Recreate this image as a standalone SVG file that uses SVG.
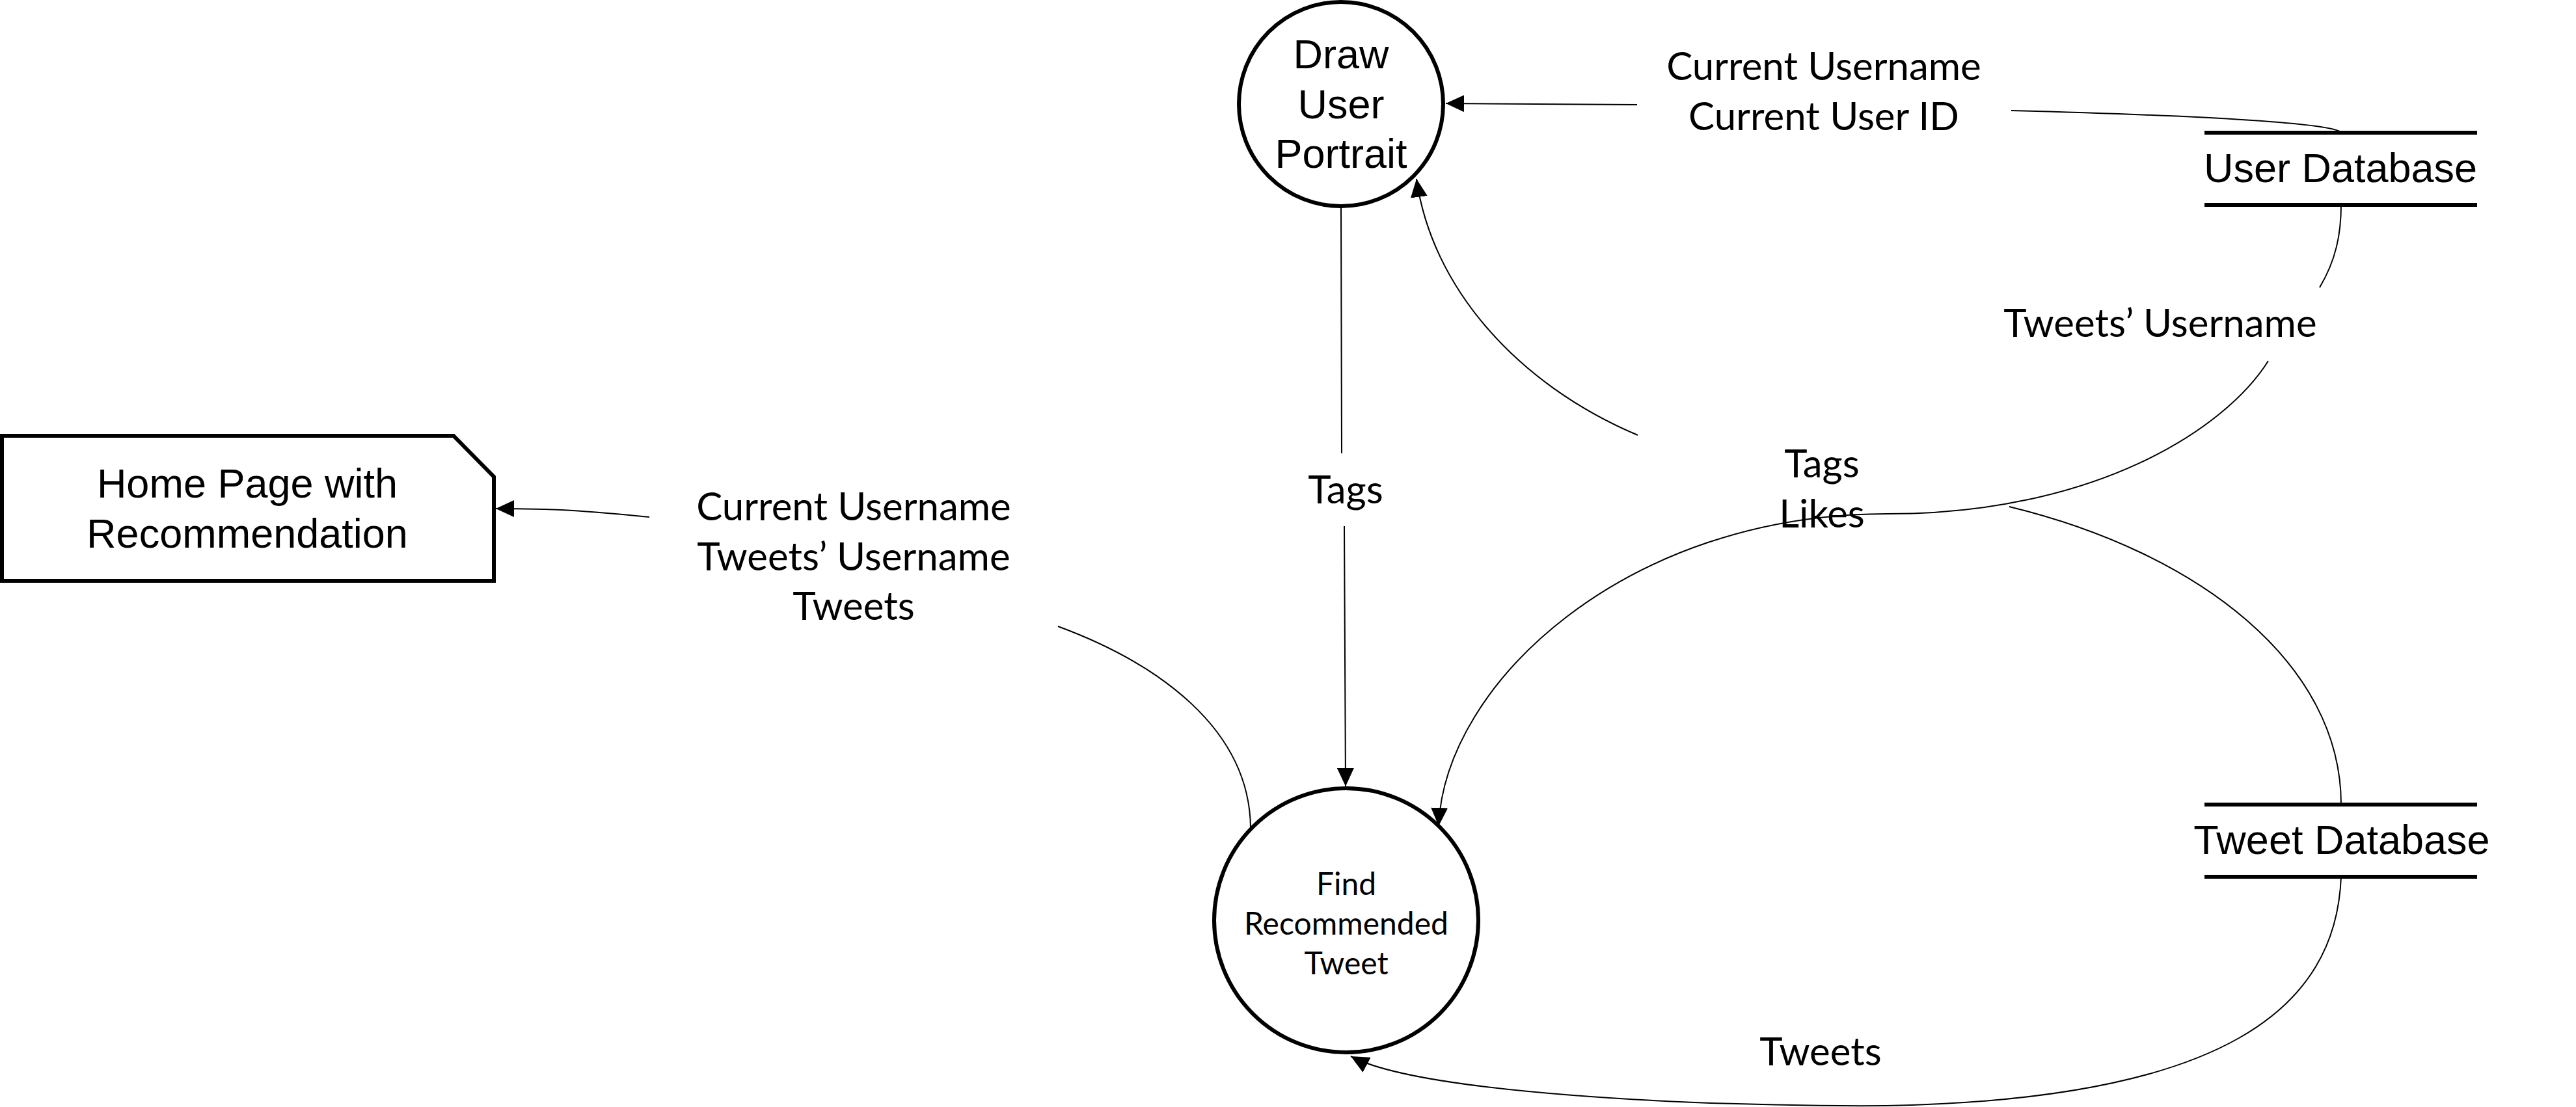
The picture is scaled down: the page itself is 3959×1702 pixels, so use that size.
<svg xmlns="http://www.w3.org/2000/svg" width="3959" height="1702" viewBox="0 0 3959 1702">
<style>
.node{fill:#fff;stroke:#000;stroke-width:6}
.store{stroke:#000;stroke-width:6;fill:none}
.conn{fill:none;stroke:#000;stroke-width:2}
.ntext{font-family:"Liberation Sans",Arial,sans-serif;font-size:63px;fill:#000;text-anchor:middle}
.small{font-family:Lato,"Open Sans",sans-serif;font-size:48px;fill:#000;text-anchor:middle}
.lbl{font-family:Lato,"Open Sans",sans-serif;font-size:60px;fill:#000;text-anchor:middle}
</style>
<defs>
<marker id="arr" markerUnits="userSpaceOnUse" markerWidth="28" markerHeight="26" viewBox="0 0 28 26" refX="28" refY="13" orient="auto">
<path d="M0,0 L28,13 L0,26 z" fill="#000"/>
</marker>
</defs>
<rect width="3959" height="1702" fill="#fff"/>

<g id="connectors">
<path class="conn" d="M2516,161 L2222,159" marker-end="url(#arr)"/>
<path class="conn" d="M3091,170 C3400,178 3590,190 3598,204"/>
<path class="conn" d="M2061,318 L2062,697"/>
<path class="conn" d="M2066,809 L2068,1209" marker-end="url(#arr)"/>
<path class="conn" d="M3598,315 C3598,360 3590,400 3565,442"/>
<path class="conn" d="M3486,555 C3420,660 3220,790 2900,790 C2500,790 2220,1050 2211,1270" marker-end="url(#arr)"/>
<path class="conn" d="M3598,1237 C3598,1020 3380,850 3088,779"/>
<path class="conn" d="M2517,669 C2330,590 2200,440 2177,275" marker-end="url(#arr)"/>
<path class="conn" d="M3598,1348 C3590,1550 3420,1690 2900,1700 C2600,1702 2180,1680 2076,1624" marker-end="url(#arr)"/>
<path class="conn" d="M1922,1272 C1920,1120 1780,1020 1626,963"/>
<path class="conn" d="M998,795 C900,785 850,782 762,782" marker-end="url(#arr)"/>
<g id="connector-labels">
<text class="lbl" x="2803" y="123">Current Username</text>
<text class="lbl" x="2803" y="200">Current User ID</text>
<text class="lbl" x="3320" y="518">Tweets’ Username</text>
<text class="lbl" x="2800" y="734">Tags</text>
<text class="lbl" x="2800" y="811">Likes</text>
<text class="lbl" x="2068" y="774">Tags</text>
<text class="lbl" x="1312" y="800">Current Username</text>
<text class="lbl" x="1312" y="877">Tweets’ Username</text>
<text class="lbl" x="1312" y="953">Tweets</text>
<text class="lbl" x="2798" y="1638">Tweets</text>
</g>
</g>

<g id="draw-user-portrait">
<ellipse class="node" cx="2061" cy="160" rx="157" ry="157"/>
<text class="ntext" x="2061" y="105">Draw</text>
<text class="ntext" x="2061" y="182">User</text>
<text class="ntext" x="2061" y="258">Portrait</text>
</g>

<g id="find-recommended-tweet">
<ellipse class="node" cx="2069" cy="1415" rx="203" ry="203"/>
<text class="small" x="2069" y="1376">Find</text>
<text class="small" x="2069" y="1437">Recommended</text>
<text class="small" x="2069" y="1498">Tweet</text>
</g>

<g id="home-page">
<path class="node" d="M3,670 L697,670 L759,733 L759,893 L3,893 z"/>
<text class="ntext" x="380" y="765">Home Page with</text>
<text class="ntext" x="380" y="842">Recommendation</text>
</g>

<g id="user-database">
<line class="store" x1="3388" y1="204" x2="3807" y2="204"/>
<line class="store" x1="3388" y1="315" x2="3807" y2="315"/>
<text class="ntext" x="3597" y="280">User Database</text>
</g>

<g id="tweet-database">
<line class="store" x1="3388" y1="1237" x2="3807" y2="1237"/>
<line class="store" x1="3388" y1="1348" x2="3807" y2="1348"/>
<text class="ntext" x="3599" y="1313">Tweet Database</text>
</g>
</svg>
